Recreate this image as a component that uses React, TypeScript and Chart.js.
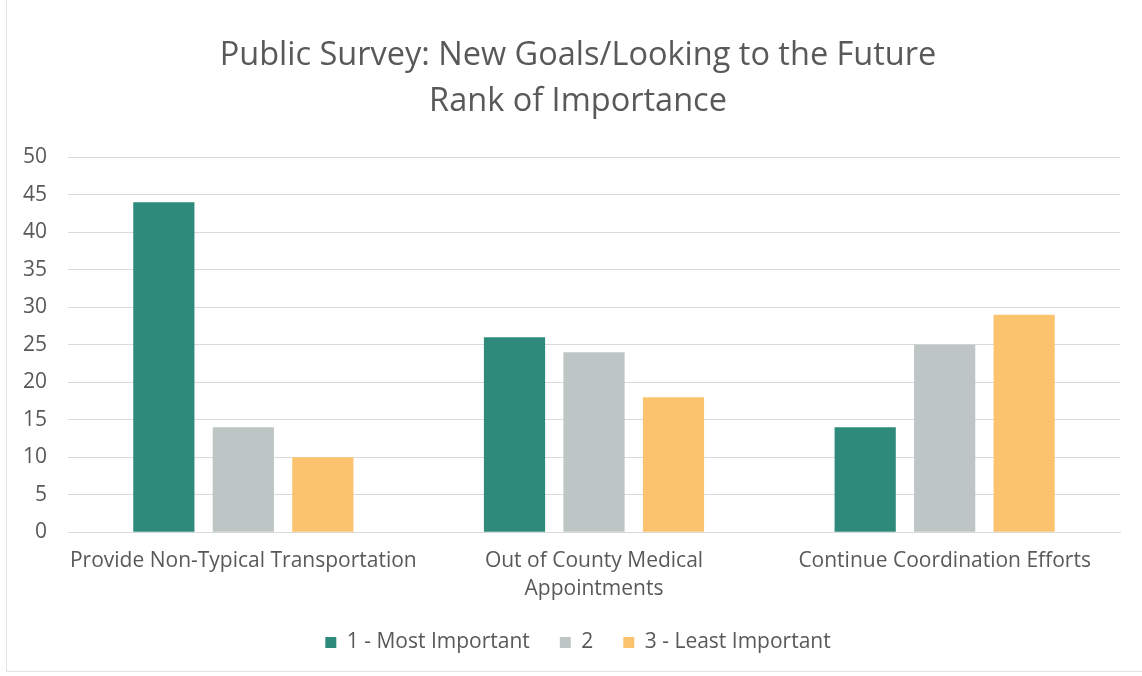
import React, { useEffect, useRef } from "react";
import { Chart, registerables } from "chart.js";

Chart.register(...registerables);

const titleLines = ["Public Survey: New Goals/Looking to the Future", "Rank of Importance"];
const categories: (string | string[])[] = [
  "Provide Non-Typical Transportation",
  ["Out of County Medical", "Appointments"],
  "Continue Coordination Efforts",
];
const seriesNames = ["1 - Most Important", "2", "3 - Least Important"];
const mostImportant = [44, 26, 14];
const second = [14, 24, 25];
const leastImportant = [10, 18, 29];
const seriesColors = ["#2E8A7B", "#BEC5C5", "#FCC36F"];
const yMin = 0;
const yMax = 50;
const yStep = 5;

const FONT = "'Open Sans', sans-serif";
const TEXT = "#595959";

export default function App() {
  const ref = useRef<HTMLCanvasElement | null>(null);

  useEffect(() => {
    document.body.style.margin = "0";
    const ctx = ref.current!;
    const values = [mostImportant, second, leastImportant];
    const chart = new Chart(ctx, {
      type: "bar",
      data: {
        labels: categories,
        datasets: seriesNames.map((name, i) => ({
          label: name,
          data: values[i],
          backgroundColor: seriesColors[i],
          borderWidth: 0,
          categoryPercentage: 0.68,
          barPercentage: 0.77,
          yAxisID: "y",
        })),
      },
      options: {
        animation: false,
        responsive: false,
        maintainAspectRatio: false,
        layout: { padding: { left: 18, right: 4, top: 0, bottom: 13 } },
        plugins: {
          title: {
            display: true,
            text: titleLines,
            color: TEXT,
            font: { family: FONT, size: 32.5, weight: "normal", lineHeight: 1.42 },
            padding: { top: 33, bottom: 32 },
          },
          legend: {
            position: "bottom",
            labels: {
              color: TEXT,
              font: { family: FONT, size: 21 },
              boxWidth: 11,
              boxHeight: 11,
              padding: 14,
              generateLabels: (c: Chart) => {
                const items = Chart.defaults.plugins.legend.labels.generateLabels(c);
                return items.map((it, i) =>
                  i < items.length - 1 ? { ...it, text: it.text + "\u2002 " } : it
                );
              },
            },
          },
          tooltip: { enabled: false },
        },
        scales: {
          x: {
            grid: { display: false, drawTicks: false },
            border: { display: true, color: "#D9D9D9" },
            ticks: {
              color: TEXT,
              font: { family: FONT, size: 21, lineHeight: 1.33 },
              padding: 15,
              maxRotation: 0,
              autoSkip: false,
            },
          },
          y: {
            min: yMin,
            max: yMax,
            grid: { color: "#D9D9D9", drawTicks: false },
            border: { display: false },
            afterFit: (scale: any) => {
              scale.width = 50;
            },
            ticks: {
              stepSize: yStep,
              color: TEXT,
              font: { family: FONT, size: 21 },
              padding: 21,
            },
          },
          yRight: {
            position: "right",
            min: yMin,
            max: yMax,
            grid: { display: false, drawTicks: false },
            border: { display: false },
            ticks: { display: false },
            afterFit: (scale: any) => {
              scale.width = 18;
            },
          },
        },
      },
    });
    return () => chart.destroy();
  }, []);

  return (
    <div style={{ position: "absolute", left: 0, top: 0, width: 1142, height: 676, background: "#fff" }}>
      <canvas ref={ref} width={1142} height={676} style={{ display: "block", width: 1142, height: 676 }} />
      <div
        style={{
          position: "absolute",
          left: 6,
          top: 0,
          width: 1136,
          height: 671,
          borderLeft: "1px solid #E3E3E3",
          borderBottom: "1px solid #E3E3E3",
          pointerEvents: "none",
        }}
      />
    </div>
  );
}
